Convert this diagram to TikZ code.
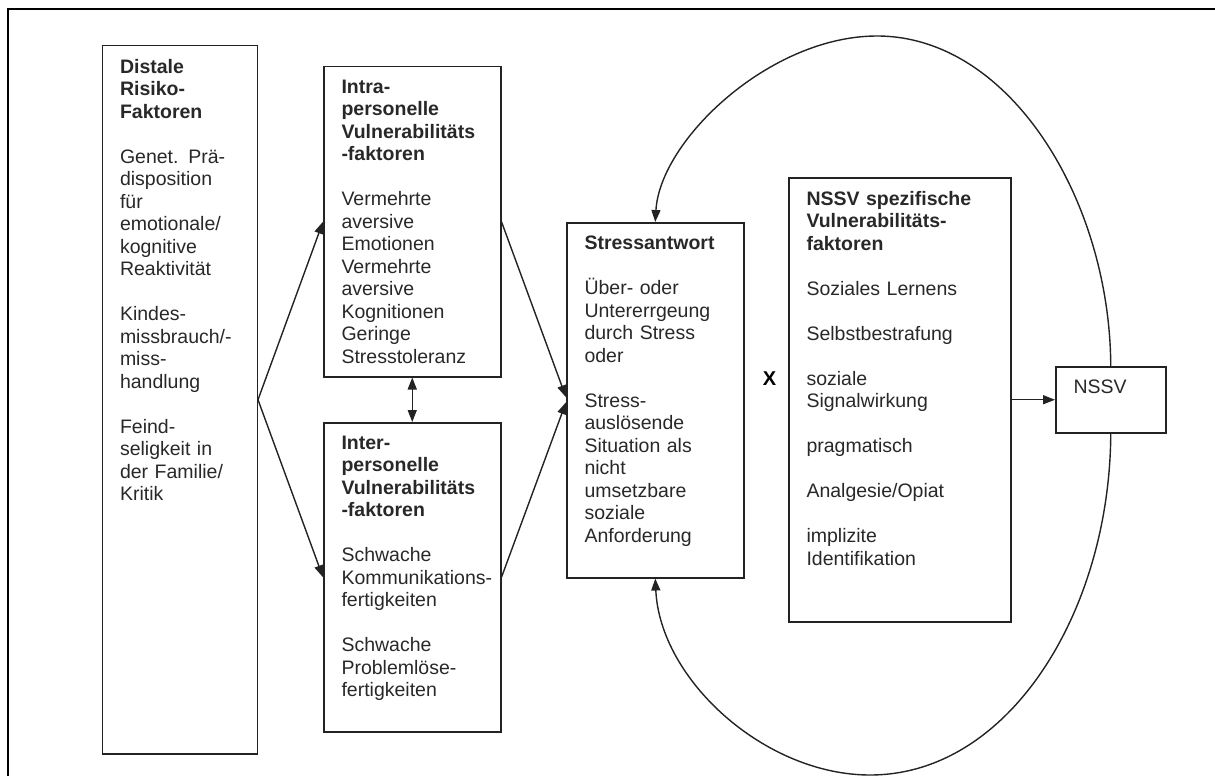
\documentclass[tikz,border=0pt]{standalone}
\usepackage{fontspec}
\setmainfont{Liberation Sans}
\usetikzlibrary{arrows.meta, positioning}
\definecolor{strich}{RGB}{35, 35, 35}
\definecolor{schrift}{RGB}{40, 40, 40}

\tikzset{
  kasten/.style={draw=strich, line width=1.5pt, rectangle, anchor=north west, inner sep=0pt},
  inhalt/.style={anchor=north west, inner sep=0pt, outer sep=0pt, text width=210pt, align=left,
    text=schrift, font=\fontsize{19.5}{22.5}\selectfont},
  pfeil/.style={draw=strich, line width=1.4pt, -{Triangle[length=12pt,width=9pt]}},
}

\begin{document}
\begin{tikzpicture}[x=1pt, y=-1pt]

\useasboundingbox (0,0) rectangle (1215,776);

% Rahmen
\draw[line width=2.5pt] (8,776) -- (8,9) -- (1215,9);

% Kaesten
\node[kasten, minimum width=155pt, minimum height=708pt] (distal) at (101.5,45) {};
\node[kasten, minimum width=177pt, minimum height=310pt] (intra) at (323,66) {};
\node[kasten, minimum width=177pt, minimum height=309pt] (inter) at (323,422) {};
\node[kasten, minimum width=177pt, minimum height=355pt] (stress) at (566,222) {};
\node[kasten, minimum width=222pt, minimum height=444pt] (spez) at (788,177) {};
\node[kasten, minimum width=110pt, minimum height=66pt] (nssv) at (1055,366) {};

% Texte in den Kaesten
\node[inhalt, below right=14pt and 18.5pt of distal.north west] (distaltxt) {%
  {\bfseries Distale\\Risiko-\\Faktoren}\\[22.5pt]
  Genet. Prä-\\disposition\\für\\emotionale/\\kognitive\\Reaktivität\\[22.5pt]
  Kindes-\\missbrauch/-\\miss-\\handlung\\[22.5pt]
  Feind-\\seligkeit in\\der Familie/\\Kritik};
\node[inhalt, below right=14pt and 18.5pt of intra.north west] (intratxt) {%
  {\bfseries Intra-\\personelle\\Vulnerabilitäts\\-faktoren}\\[22.5pt]
  Vermehrte\\aversive\\Emotionen\\Vermehrte\\aversive\\Kognitionen\\Geringe\\Stresstoleranz};
\node[inhalt, below right=14pt and 18.5pt of inter.north west] (intertxt) {%
  {\bfseries Inter-\\personelle\\Vulnerabilitäts\\-faktoren}\\[22.5pt]
  Schwache\\Kommunikations-\\fertigkeiten\\[22.5pt]
  Schwache\\Problemlöse-\\fertigkeiten};
\node[inhalt, below right=14pt and 18.5pt of stress.north west] (stresstxt) {%
  {\bfseries Stressantwort}\\[22.5pt]
  Über- oder\\Untererrgeung\\durch Stress\\oder\\[22.5pt]
  Stress-\\auslösende\\Situation als\\nicht\\umsetzbare\\soziale\\Anforderung};
\node[inhalt, below right=14pt and 18.5pt of spez.north west] (speztxt) {%
  {\bfseries NSSV spezifische\\Vulnerabilitäts-\\faktoren}\\[22.5pt]
  Soziales Lernens\\[22.5pt]
  Selbstbestrafung\\[22.5pt]
  soziale\\Signalwirkung\\[22.5pt]
  pragmatisch\\[22.5pt]
  Analgesie/Opiat\\[22.5pt]
  implizite\\Identifikation};
\node[inhalt, below right=14pt and 18.5pt of nssv.north west] (nssvtxt) {NSSV};

% Verknuepfung
\node[text=black, font=\fontsize{20}{22.5}\selectfont\bfseries] (mal) at (769.5,378.6) {X};

% Pfeile
\draw[pfeil] (distal.east) -- (intra.west);
\draw[pfeil] (distal.east) -- (inter.west);
\draw[pfeil] (intra.east) -- ([yshift=3pt]stress.west);
\draw[pfeil] (inter.east) -- ([yshift=-2pt]stress.west);
\draw[pfeil, {Triangle[length=12pt,width=9pt]}-{Triangle[length=12pt,width=9pt]}] (intra.south) -- (inter.north);
\draw[pfeil] (spez.east) -- (nssv.west);

% Rueckkopplung
\coordinate (scheitel) at (877,36);
\coordinate (sohle) at (870,775);
\draw[pfeil] (nssv.north) .. controls (1110,200) and (1010,36) .. (scheitel)
  .. controls (770,36) and (660,140) .. (stress.north);
\draw[pfeil] (nssv.south) .. controls (1110,610) and (1010,775) .. (sohle)
  .. controls (765,775) and (660,680) .. (stress.south);

\end{tikzpicture}
\end{document}
